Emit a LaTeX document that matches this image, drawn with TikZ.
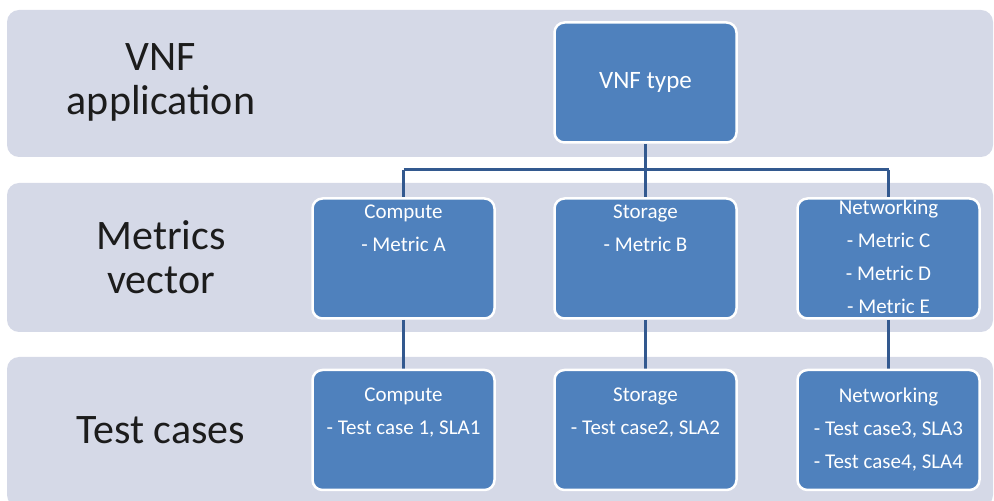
\documentclass[tikz,border=0pt]{standalone}
\usepackage{fontspec}
\setmainfont{Carlito}
\usetikzlibrary{positioning,backgrounds}

\definecolor{bandgray}{HTML}{D5D9E7}
\definecolor{tileblue}{HTML}{4F81BD}
\definecolor{linkblue}{HTML}{33598F}
\definecolor{labelblack}{HTML}{1C1C1C}

\tikzset{
  band/.style={fill=bandgray, rounded corners=12pt},
  tile/.style={draw=white, line width=2.5pt, fill=tileblue,
    rounded corners=10pt, minimum width=182pt, minimum height=120pt},
  tiletext/.style={text=white, align=center, inner sep=0pt,
    font=\fontsize{21}{33}\selectfont},
  rowlabel/.style={align=center, text=labelblack, inner sep=0pt,
    font=\fontsize{42}{44}\selectfont},
  link/.style={draw=linkblue, line width=3pt},
}

\begin{document}
\begin{tikzpicture}[x=1pt,y=1pt]
  \useasboundingbox (0,0) rectangle (994,501);

  % row titles
  \node[rowlabel] (app)     at (161,419)   {VNF\\application};
  \node[rowlabel] (metrics) at (161,243.5) {Metrics\\vector};
  \node[rowlabel] (tests)   at (161,71)    {Test cases};

  % top level
  \node[tile] (vnf) at (645.5,418.5) {};
  \node[tiletext, font=\fontsize{25}{33}\selectfont] at (vnf) {VNF type};

  % metrics row
  \node[tile] (compm) at (403.5,242.5) {};
  \node[tile] (storm) at (645.5,242.5) {};
  \node[tile] (netm)  at (888.5,242.5) {};

  \node[tiletext, anchor=north] at ([yshift=-7pt]compm.north)
    {Compute\\- Metric A};
  \node[tiletext, anchor=north] at ([yshift=-7pt]storm.north)
    {Storage\\- Metric B};
  \node[tiletext, anchor=north] at ([yshift=-2pt]netm.north)
    {Networking\\- Metric C\\- Metric D\\- Metric E};

  % test case row
  \node[tile] (compt) at (403.5,71) {};
  \node[tiletext, anchor=north] at ([yshift=-19pt]compt.north)
    {Compute\\- Test case 1, SLA1};
  \node[tile] (stort) at (645.5,71) {};
  \node[tiletext, anchor=north] at ([yshift=-19pt]stort.north)
    {Storage\\- Test case2, SLA2};
  \node[tile] (nett)  at (888.5,71) {};
  \node[tiletext, anchor=north] at ([yshift=-19pt]nett.north)
    {Networking\\- Test case3, SLA3\\- Test case4, SLA4};

  % rows and connectors go under the tiles
  \coordinate (bus) at (645.5,331);
  \begin{scope}[on background layer]
    \fill[band] (7,491) rectangle (993,344);
    \fill[band] (7,318) rectangle (993,169);
    \fill[band] (7,144) rectangle (993,-6);
    \draw[link] (vnf.south) -- (bus);
    \draw[link] (bus -| compm.north) -- (bus -| netm.north);
    \draw[link] (bus -| compm.north) -- (compm.north);
    \draw[link] (bus) -- (storm.north);
    \draw[link] (bus -| netm.north) -- (netm.north);
    \draw[link] (compm) -- (compt);
    \draw[link] (storm) -- (stort);
    \draw[link] (netm) -- (nett);
  \end{scope}
\end{tikzpicture}
\end{document}
